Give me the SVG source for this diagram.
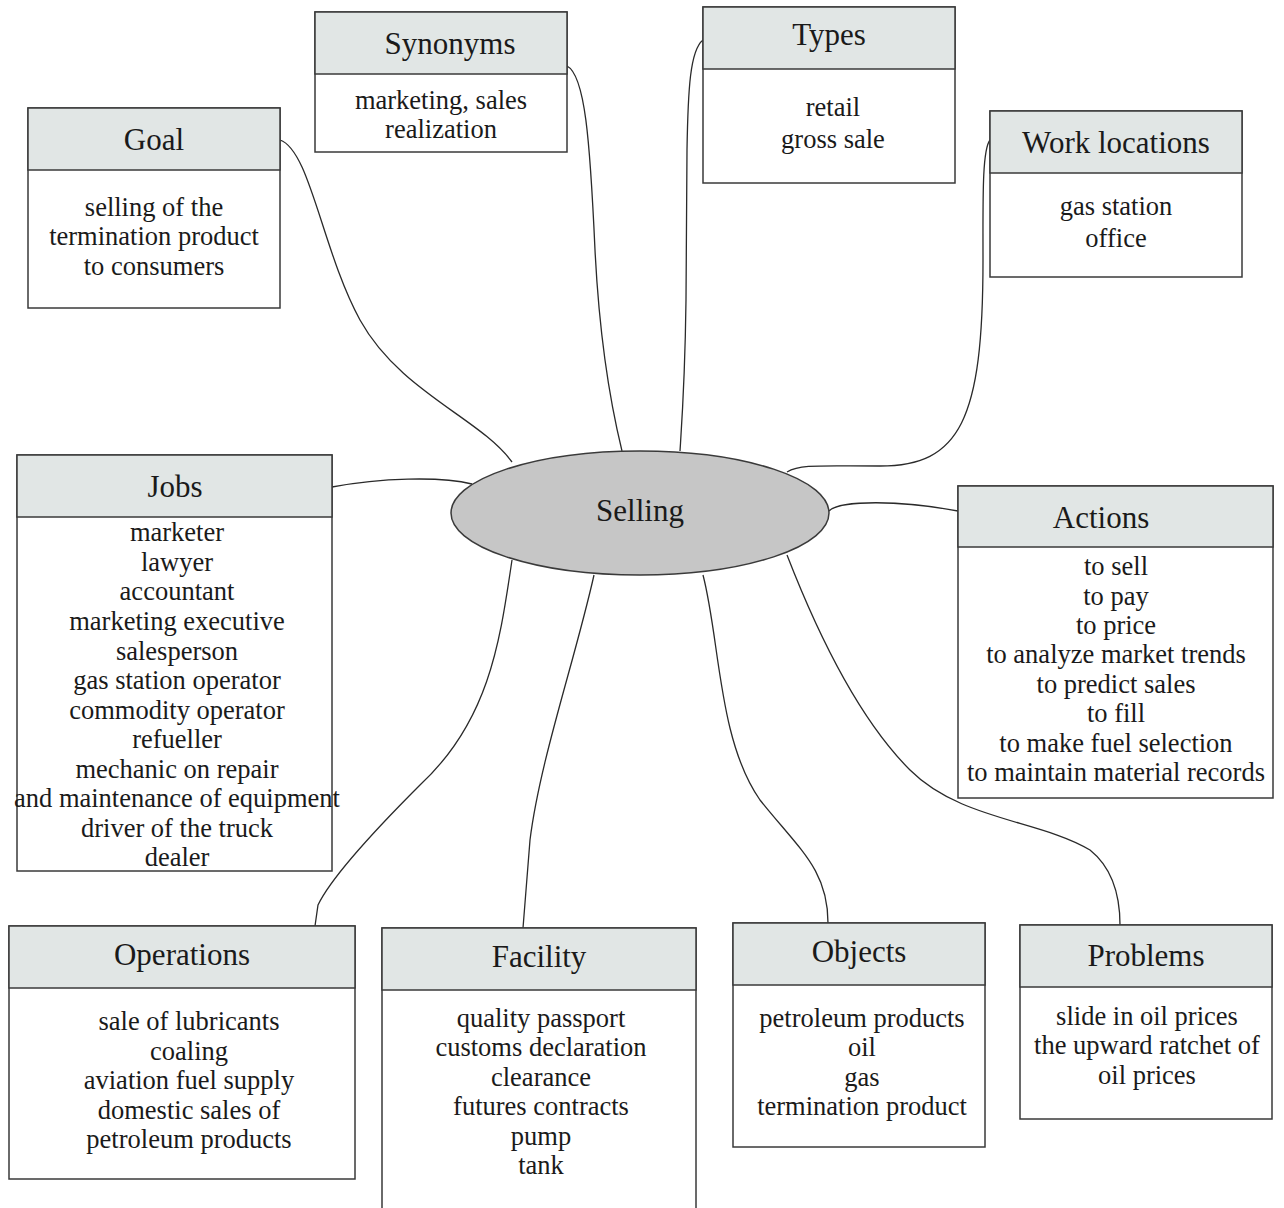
<svg xmlns="http://www.w3.org/2000/svg" width="1284" height="1208" viewBox="0 0 1284 1208">
  <style>
    .box { fill: #ffffff; stroke: #3a3a3a; stroke-width: 1.5; }
    .head { fill: #e1e6e5; stroke: #3a3a3a; stroke-width: 1.5; }
    .title { font-family: "Liberation Serif", "Times New Roman", serif; font-size: 31px; fill: #1a1a1a; text-anchor: middle; }
    .item { font-family: "Liberation Serif", "Times New Roman", serif; font-size: 26.5px; fill: #1a1a1a; text-anchor: middle; }
    .link { fill: none; stroke: #2a2a2a; stroke-width: 1.3; }
  </style>
  <rect width="1284" height="1208" fill="#ffffff"/>

  <!-- connectors from the central topic to each box -->
  <g id="connectors">
    <path class="link" d="M280,140 C310,150 322,250 360,320 C400,392 480,418 512,462"/>
    <path class="link" d="M567,66 C585,75 590,140 595,250 C600,350 612,410 622,451"/>
    <path class="link" d="M703,40 C690,50 688,90 687,150 L686,300 C685,380 682,420 680,451"/>
    <path class="link" d="M990,140 C982,150 983,200 983,260 C983,420 960,466 880,466 C820,466 800,464 787,472"/>
    <path class="link" d="M332,487 C380,478 440,476 472,484"/>
    <path class="link" d="M829,511 C840,500 900,500 958,511"/>
    <path class="link" d="M512,560 C500,640 490,720 420,785 C370,835 330,880 318,905 L315,926"/>
    <path class="link" d="M594,575 C575,660 540,760 530,840 L523,928"/>
    <path class="link" d="M703,575 C720,640 718,740 760,800 C800,850 828,870 828,923"/>
    <path class="link" d="M787,555 C820,640 860,720 910,770 C960,820 1040,820 1090,850 C1115,870 1120,900 1120,925"/>
  </g>

  <g id="selling">
    <ellipse cx="640" cy="513" rx="189" ry="62" fill="#c6c6c6" stroke="#3a3a3a" stroke-width="1.5"/>
    <text class="title" x="640" y="521">Selling</text>
  </g>

  <g id="goal">
    <rect class="box" x="28" y="108" width="252" height="200"/>
    <rect class="head" x="28" y="108" width="252" height="62"/>
    <text class="title" x="154" y="150">Goal</text>
    <text class="item" x="154" y="216">selling of the</text>
    <text class="item" x="154" y="245">termination product</text>
    <text class="item" x="154" y="275">to consumers</text>
  </g>

  <g id="synonyms">
    <rect class="box" x="315" y="12" width="252" height="140"/>
    <rect class="head" x="315" y="12" width="252" height="62"/>
    <text class="title" x="450" y="54">Synonyms</text>
    <text class="item" x="441" y="109">marketing, sales</text>
    <text class="item" x="441" y="138">realization</text>
  </g>

  <g id="types">
    <rect class="box" x="703" y="7" width="252" height="176"/>
    <rect class="head" x="703" y="7" width="252" height="62"/>
    <text class="title" x="829" y="45">Types</text>
    <text class="item" x="833" y="116">retail</text>
    <text class="item" x="833" y="148">gross sale</text>
  </g>

  <g id="work-locations">
    <rect class="box" x="990" y="111" width="252" height="166"/>
    <rect class="head" x="990" y="111" width="252" height="62"/>
    <text class="title" x="1116" y="153">Work locations</text>
    <text class="item" x="1116" y="215">gas station</text>
    <text class="item" x="1116" y="247">office</text>
  </g>

  <g id="jobs">
    <rect class="box" x="17" y="455" width="315" height="416"/>
    <rect class="head" x="17" y="455" width="315" height="62"/>
    <text class="title" x="175" y="497">Jobs</text>
    <text class="item" x="177" y="541">marketer</text>
    <text class="item" x="177" y="571">lawyer</text>
    <text class="item" x="177" y="600">accountant</text>
    <text class="item" x="177" y="630">marketing executive</text>
    <text class="item" x="177" y="660">salesperson</text>
    <text class="item" x="177" y="689">gas station operator</text>
    <text class="item" x="177" y="719">commodity operator</text>
    <text class="item" x="177" y="748">refueller</text>
    <text class="item" x="177" y="778">mechanic on repair</text>
    <text class="item" x="177" y="807">and maintenance of equipment</text>
    <text class="item" x="177" y="837">driver of the truck</text>
    <text class="item" x="177" y="866">dealer</text>
  </g>

  <g id="actions">
    <rect class="box" x="958" y="486" width="315" height="312"/>
    <rect class="head" x="958" y="486" width="315" height="61"/>
    <text class="title" x="1101" y="528">Actions</text>
    <text class="item" x="1116" y="575">to sell</text>
    <text class="item" x="1116" y="605">to pay</text>
    <text class="item" x="1116" y="634">to price</text>
    <text class="item" x="1116" y="663">to analyze market trends</text>
    <text class="item" x="1116" y="693">to predict sales</text>
    <text class="item" x="1116" y="722">to fill</text>
    <text class="item" x="1116" y="752">to make fuel selection</text>
    <text class="item" x="1116" y="781">to maintain material records</text>
  </g>

  <g id="operations">
    <rect class="box" x="9" y="926" width="346" height="253"/>
    <rect class="head" x="9" y="926" width="346" height="62"/>
    <text class="title" x="182" y="965">Operations</text>
    <text class="item" x="189" y="1030">sale of lubricants</text>
    <text class="item" x="189" y="1060">coaling</text>
    <text class="item" x="189" y="1089">aviation fuel supply</text>
    <text class="item" x="189" y="1119">domestic sales of</text>
    <text class="item" x="189" y="1148">petroleum products</text>
  </g>

  <g id="facility">
    <rect class="box" x="382" y="928" width="314" height="290"/>
    <rect class="head" x="382" y="928" width="314" height="62"/>
    <text class="title" x="539" y="967">Facility</text>
    <text class="item" x="541" y="1027">quality passport</text>
    <text class="item" x="541" y="1056">customs declaration</text>
    <text class="item" x="541" y="1086">clearance</text>
    <text class="item" x="541" y="1115">futures contracts</text>
    <text class="item" x="541" y="1145">pump</text>
    <text class="item" x="541" y="1174">tank</text>
  </g>

  <g id="objects">
    <rect class="box" x="733" y="923" width="252" height="224"/>
    <rect class="head" x="733" y="923" width="252" height="62"/>
    <text class="title" x="859" y="962">Objects</text>
    <text class="item" x="862" y="1027">petroleum products</text>
    <text class="item" x="862" y="1056">oil</text>
    <text class="item" x="862" y="1086">gas</text>
    <text class="item" x="862" y="1115">termination product</text>
  </g>

  <g id="problems">
    <rect class="box" x="1020" y="925" width="252" height="194"/>
    <rect class="head" x="1020" y="925" width="252" height="62"/>
    <text class="title" x="1146" y="966">Problems</text>
    <text class="item" x="1147" y="1025">slide in oil prices</text>
    <text class="item" x="1147" y="1054">the upward ratchet of</text>
    <text class="item" x="1147" y="1084">oil prices</text>
  </g>
</svg>
